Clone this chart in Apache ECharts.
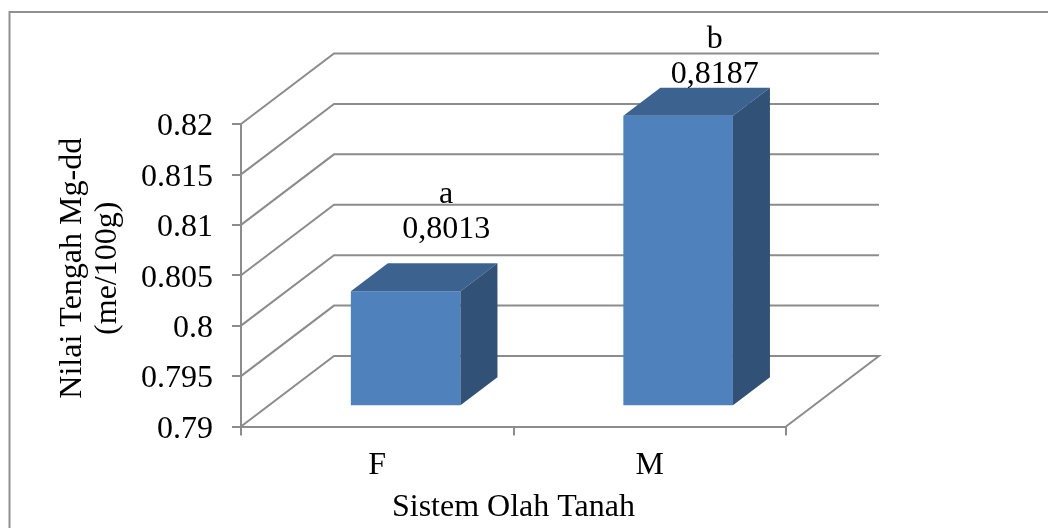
<!DOCTYPE html>
<html>
<head>
<meta charset="utf-8">
<style>html,body{margin:0;padding:0;background:#fff}#c{width:1048px;height:528px}</style>
<script src="https://cdn.jsdelivr.net/npm/echarts@6/dist/echarts.min.js"></script>
</head>
<body>
<div id="c"></div>
<script>
const categories = ['F', 'M'];
const meanValues = [0.8013, 0.8187];
const valueLabels = ['0,8013', '0,8187'];
const groupLetters = ['a', 'b'];
const yTicks = [0.79, 0.795, 0.8, 0.805, 0.81, 0.815, 0.82];

const FONT = '"Liberation Serif","Times New Roman",serif';
const FS = 32;
const GREY = '#8c8c8c';
const WALL_DX = 93, WALL_DY = -70.5;
const BAR_DX = 28.4, BAR_DY = -21.3, DEPTH_DX = 37, DEPTH_DY = -28;
const BAR_W = 109.6;
const LABEL_LIFT = [34, 13];
const LABEL_SHIFT = [22, 18];
const LETTER_GAP = 35;

const chart = echarts.init(document.getElementById('c'), null, {renderer: 'canvas'});

function renderWall(params, api) {
  const v = api.value(1);
  const cs = params.coordSys;
  const y = api.coord([0, v])[1];
  const x0 = cs.x, x1 = cs.x + cs.width;
  const style = {stroke: GREY, lineWidth: 2, fill: null};
  const pts = [[x0, y], [x0 + WALL_DX, y + WALL_DY], [x1 + WALL_DX, y + WALL_DY]];
  if (params.dataIndex === 0) pts.push([x1, y]);
  return {type: 'polyline', shape: {points: pts}, style: style, silent: true};
}

function renderBar(params, api) {
  const i = api.value(0);
  const top = api.coord([i, api.value(1)]);
  const bottomY = api.coord([i, yTicks[0]])[1];
  const l = top[0] - BAR_W / 2 + BAR_DX, r = l + BAR_W;
  const t = top[1] + BAR_DY, b = bottomY + BAR_DY;
  const dx = DEPTH_DX, dy = DEPTH_DY;
  const cx = (l + r) / 2 + dx / 2 + LABEL_SHIFT[i];
  const labelY = t + dy - LABEL_LIFT[i];
  const textStyle = {fontFamily: FONT, fontSize: FS, fill: '#000', align: 'center', verticalAlign: 'middle'};
  return {
    type: 'group',
    children: [
      {type: 'polygon', shape: {points: [[l, t], [r, t], [r, b], [l, b]]}, style: {fill: '#4f81bd'}},
      {type: 'polygon', shape: {points: [[l, t], [l + dx, t + dy], [r + dx, t + dy], [r, t]]}, style: {fill: '#3c628f'}},
      {type: 'polygon', shape: {points: [[r, t], [r + dx, t + dy], [r + dx, b + dy], [r, b]]}, style: {fill: '#315176'}},
      {type: 'text', style: Object.assign({x: cx, y: labelY, text: valueLabels[i]}, textStyle)},
      {type: 'text', style: Object.assign({x: cx, y: labelY - LETTER_GAP, text: groupLetters[i]}, textStyle)}
    ]
  };
}

chart.setOption({
  animation: false,
  backgroundColor: '#fff',
  grid: {left: 241, right: 262, top: 124, bottom: 101.5, outerBoundsMode: 'none'},
  graphic: [
    {type: 'polyline', z: 0, silent: true, shape: {points: [[9.5, 528], [9.5, 12], [1048, 12]]},
     style: {stroke: '#909090', lineWidth: 2, fill: null}}
  ],
  xAxis: {
    type: 'category',
    data: categories,
    name: 'Sistem Olah Tanah',
    nameLocation: 'middle',
    nameGap: 65,
    nameTextStyle: {fontFamily: FONT, fontSize: FS, color: '#000'},
    axisLine: {lineStyle: {color: GREY, width: 2}},
    axisTick: {show: true, length: 9, lineStyle: {color: GREY, width: 2}},
    axisLabel: {fontFamily: FONT, fontSize: FS, color: '#000', margin: 23},
    splitLine: {show: false}
  },
  yAxis: {
    type: 'value',
    min: yTicks[0],
    max: yTicks[yTicks.length - 1],
    interval: 0.005,
    name: 'Nilai Tengah Mg-dd\n(me/100g)',
    nameLocation: 'middle',
    nameGap: 116,
    nameTextStyle: {fontFamily: FONT, fontSize: FS, color: '#000', lineHeight: 35, align: 'center', padding: [0, 0, 0, 14]},
    axisLine: {show: true, lineStyle: {color: GREY, width: 2}},
    axisTick: {show: true, length: 9, lineStyle: {color: GREY, width: 2}},
    axisLabel: {fontFamily: FONT, fontSize: FS, color: '#000', margin: 28, verticalAlign: 'top', lineHeight: 6},
    splitLine: {show: false}
  },
  series: [
    {type: 'custom', clip: false, silent: true, z: 1, renderItem: renderWall,
     encode: {x: 0, y: 1}, data: yTicks.map(v => [0, v])},
    {type: 'custom', clip: false, silent: true, z: 2, renderItem: renderBar,
     encode: {x: 0, y: 1}, data: meanValues.map((v, i) => [i, v])}
  ]
});
</script>
</body>
</html>
